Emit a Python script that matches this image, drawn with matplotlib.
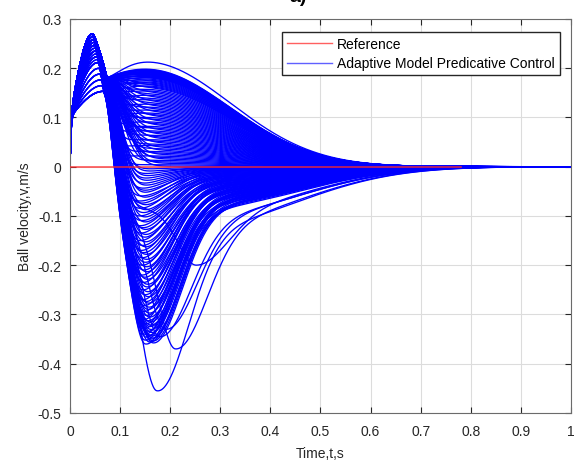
import numpy as np
import matplotlib
matplotlib.use("Agg")
import matplotlib.pyplot as plt
from matplotlib.ticker import FuncFormatter

plt.rcParams["font.family"] = ["Liberation Sans", "DejaVu Sans"]
plt.rcParams["axes.unicode_minus"] = False

# ---- values ----
ref_end = 0.78

# curves that end up with a positive hump (peak value near t = 0.15)
hump_peak = [0.213, 0.198, 0.197, 0.196, 0.195, 0.194, 0.193, 0.192, 0.191, 0.190,
             0.189, 0.188, 0.187, 0.186, 0.185, 0.184, 0.183, 0.182, 0.181, 0.180,
             0.178, 0.176, 0.174, 0.172, 0.170, 0.168, 0.166, 0.164, 0.162, 0.160,
             0.157, 0.154, 0.151, 0.148, 0.145, 0.142, 0.139, 0.136, 0.133, 0.130,
             0.127, 0.124, 0.121, 0.118, 0.115, 0.112, 0.109, 0.106, 0.103, 0.100,
             0.097, 0.094, 0.091, 0.088, 0.085, 0.082, 0.079, 0.076, 0.073, 0.070,
             0.067, 0.064, 0.061, 0.058, 0.055, 0.052, 0.049, 0.046, 0.043, 0.040,
             0.037, 0.034, 0.031, 0.028, 0.025, 0.022, 0.019, 0.016, 0.013, 0.010,
             0.007, 0.004, 0.001]
hump_early = [1.0, 1.0, 0.9, 1.0, 0.95, 1.0, 0.85, 1.0, 0.9, 1.0,
              0.8, 1.0, 0.95, 1.0, 0.75, 1.0, 0.85, 0.95, 0.7, 1.0,
              0.9, 0.8, 1.0, 0.65, 0.95, 0.85, 1.0, 0.6, 0.9, 1.0,
              0.8, 0.7, 1.0, 0.9, 0.55, 1.0, 0.85, 0.75, 1.0, 0.9,
              0.65, 1.0, 0.8, 0.95, 0.7, 1.0, 0.6, 0.9, 1.0, 0.75,
              0.85, 1.0, 0.5, 0.9, 1.0, 0.7, 0.8, 1.0, 0.6, 0.9,
              1.0, 0.75, 0.95, 1.0, 0.65, 0.9, 1.0, 0.8, 0.55, 1.0,
              0.85, 1.0, 0.7, 0.9, 1.0, 0.6, 0.95, 1.0, 0.8, 0.9,
              1.0, 0.7, 1.0]

# curves that dip to a negative trough: lowest value, its time, late tail level, early bundle
trough_depth = [-0.360, -0.358, -0.356, -0.354, -0.352, -0.350, -0.348, -0.346, -0.344, -0.342,
                -0.340, -0.337, -0.334, -0.331, -0.328, -0.325, -0.322, -0.319, -0.316, -0.313,
                -0.310, -0.306, -0.302, -0.298, -0.294, -0.290, -0.286, -0.282, -0.278, -0.274,
                -0.270, -0.265, -0.260, -0.255, -0.250, -0.245, -0.240, -0.235, -0.230, -0.225,
                -0.220, -0.215, -0.210, -0.205, -0.200, -0.195, -0.190, -0.185, -0.180, -0.175,
                -0.170, -0.165, -0.160, -0.155, -0.150, -0.145, -0.140, -0.135, -0.130, -0.125,
                -0.120, -0.115, -0.110, -0.105, -0.100, -0.095, -0.090, -0.085, -0.080, -0.075,
                -0.070, -0.065, -0.060, -0.055, -0.050, -0.045, -0.040, -0.035, -0.030, -0.025,
                -0.020, -0.015, -0.010, -0.005]
trough_early = [0.0, 1.0, 0.5, 1.0, 0.0, 0.8, 1.0, 0.2, 1.0, 0.6,
                0.0, 1.0, 0.4, 1.0, 0.0, 0.9, 1.0, 0.3, 1.0, 0.7,
                0.0, 1.0, 0.5, 1.0, 0.1, 0.8, 1.0, 0.2, 1.0, 0.6,
                0.0, 1.0, 0.4, 1.0, 0.1, 0.9, 1.0, 0.3, 1.0, 0.7,
                0.0, 1.0, 0.5, 1.0, 0.2, 0.8, 1.0, 0.3, 1.0, 0.6,
                0.1, 1.0, 0.4, 1.0, 0.0, 0.9, 1.0, 0.3, 1.0, 0.7,
                0.2, 1.0, 0.5, 1.0, 0.1, 0.8, 1.0, 0.4, 1.0, 0.6,
                0.3, 1.0, 0.5, 1.0, 0.9, 0.7, 1.0, 0.8, 1.0, 0.9,
                1.0, 0.8, 1.0, 0.9]
trough_time = [0.150, 0.165, 0.158, 0.164, 0.149, 0.161, 0.163, 0.151, 0.162, 0.156,
               0.148, 0.161, 0.154, 0.160, 0.147, 0.158, 0.159, 0.150, 0.158, 0.154,
               0.146, 0.157, 0.151, 0.156, 0.146, 0.154, 0.155, 0.147, 0.154, 0.150,
               0.144, 0.153, 0.148, 0.152, 0.144, 0.151, 0.151, 0.145, 0.150, 0.147,
               0.142, 0.149, 0.145, 0.148, 0.142, 0.147, 0.147, 0.142, 0.146, 0.144,
               0.140, 0.145, 0.142, 0.144, 0.138, 0.143, 0.143, 0.139, 0.142, 0.141,
               0.137, 0.141, 0.139, 0.140, 0.136, 0.139, 0.139, 0.136, 0.138, 0.137,
               0.135, 0.137, 0.136, 0.136, 0.135, 0.134, 0.135, 0.134, 0.134, 0.133,
               0.133, 0.132, 0.132, 0.131]
trough_tail = [-0.085, -0.078, -0.082, -0.075, -0.080, -0.072, -0.078, -0.070, -0.076, -0.068,
               -0.074, -0.066, -0.072, -0.064, -0.070, -0.062, -0.068, -0.060, -0.066, -0.058,
               -0.064, -0.056, -0.062, -0.054, -0.060, -0.052, -0.058, -0.050, -0.056, -0.048,
               -0.054, -0.046, -0.052, -0.044, -0.050, -0.042, -0.048, -0.040, -0.046, -0.038,
               -0.044, -0.036, -0.042, -0.034, -0.040, -0.032, -0.038, -0.030, -0.036, -0.028,
               -0.034, -0.026, -0.032, -0.024, -0.030, -0.022, -0.028, -0.020, -0.026, -0.018,
               -0.024, -0.016, -0.022, -0.014, -0.020, -0.012, -0.018, -0.010, -0.016, -0.008,
               -0.014, -0.006, -0.012, -0.004, -0.010, -0.008, -0.006, -0.005, -0.004, -0.003,
               -0.003, -0.002, -0.002, -0.001]

# a few slow outliers
slow_depth = [-0.455, -0.370, -0.200, -0.345, -0.330]
slow_time = [0.173, 0.210, 0.252, 0.178, 0.190]
slow_tail = [-0.120, -0.115, -0.095, -0.100, -0.100]

t = np.linspace(0, 1, 2001)


def gauss(x, c, sl, sr):
    s = np.where(x < c, sl, sr)
    return np.exp(-0.5 * ((x - c) / s) ** 2)


def curve(b, hump=0.0, depth=0.0, tdep=0.15, tail=0.0, sl=0.034, sr=0.058, fade=0.03):
    # early part: b = 1 upper bundle (peak 0.27), b = 0 lower bundle (peak 0.153)
    p = 0.153 + 0.117 * b
    pc = 0.066 - 0.021 * b
    t0 = 0.066 + 0.008 * b
    v0 = 0.153 + 0.027 * b
    early = 0.1 * (1 - np.exp(-t / 0.0018)) + (p - 0.1) * np.sin(0.5 * np.pi * np.clip(t / pc, 0, 1))
    if t0 > pc:
        u = np.clip((t - pc) / (t0 - pc), 0, 1)
        early = np.where(t > pc, p - (p - v0) * u ** 1.3, early)

    amp = depth - tail * gauss(np.array(tdep), 0.25, 0.2, 0.2)

    def late(x):
        return (hump * gauss(x, 0.15, 0.17, 0.17)
                + amp * gauss(x, tdep, sl, sr)
                + tail * gauss(x, 0.25, 0.2, 0.2))

    f = v0 - late(np.array(t0))
    v = f * np.exp(-((t - t0) / fade) ** 2) + late(t)
    return np.where(t <= t0, early, v)


fig = plt.figure(figsize=(5.79, 4.64), dpi=100)
ax = fig.add_axes([0.121, 0.108, 0.865, 0.849])

blue = "#0000ff"
lw = 0.95
for h, b in zip(hump_peak, hump_early):
    ax.plot(t, curve(b, hump=h, fade=0.012 + 0.034 * (b - 0.5) * 2), color=blue, lw=lw)
for d, tt, s, b in zip(trough_depth, trough_time, trough_tail, trough_early):
    ax.plot(t, curve(b, depth=d, tdep=tt, tail=s, sl=0.03 + 0.014 * b, fade=0.025 + 0.01 * b),
            color=blue, lw=lw)
for d, tt, s in zip(slow_depth, slow_time, slow_tail):
    ax.plot(t, curve(1.0, depth=d, tdep=tt, tail=s, sl=0.035, sr=0.062), color=blue, lw=lw)

t_ref = np.array([0.0, ref_end])
ax.plot(t_ref, np.zeros_like(t_ref), color="#ff2a2a", lw=1.2, alpha=0.8, zorder=5)

# legend proxies
ax.plot([], [], color="#ff6060", lw=1.0, label="Reference")
ax.plot([], [], color="#6060ff", lw=1.0, label="Adaptive Model Predicative Control")
ax.legend(loc="upper right", fontsize=10, frameon=True, fancybox=False,
          edgecolor="#262626", framealpha=1, borderpad=0.35, handlelength=3.2,
          labelspacing=0.4, handletextpad=0.4, borderaxespad=0,
          bbox_to_anchor=(0.978, 0.967))

ax.set_xlim(0, 1)
ax.set_ylim(-0.5, 0.3)
ax.set_xticks(np.arange(0, 1.01, 0.1))
ax.set_yticks(np.arange(-0.5, 0.31, 0.1))
fmt = FuncFormatter(lambda v, _: "%g" % (round(v, 2) + 0.0))
ax.xaxis.set_major_formatter(fmt)
ax.yaxis.set_major_formatter(fmt)
ax.grid(True, color="#dcdcdc", lw=0.8)
ax.set_axisbelow(True)
ax.tick_params(direction="in", top=True, right=True, labelsize=10, colors="#262626", length=4)
ax.tick_params(axis="x", pad=8)
ax.tick_params(axis="y", pad=6)
for sp in ax.spines.values():
    sp.set_color("#6b6b6b")
ax.set_xlabel("Time,t,s", fontsize=10, color="#262626", labelpad=6)
ax.set_ylabel("Ball velocity,v,m/s", fontsize=10, color="#262626", labelpad=4)

fig.text(0.515, 1.005, "a)", fontsize=14, fontweight="bold", ha="center", va="center")

fig.savefig("out.png", dpi=100)
